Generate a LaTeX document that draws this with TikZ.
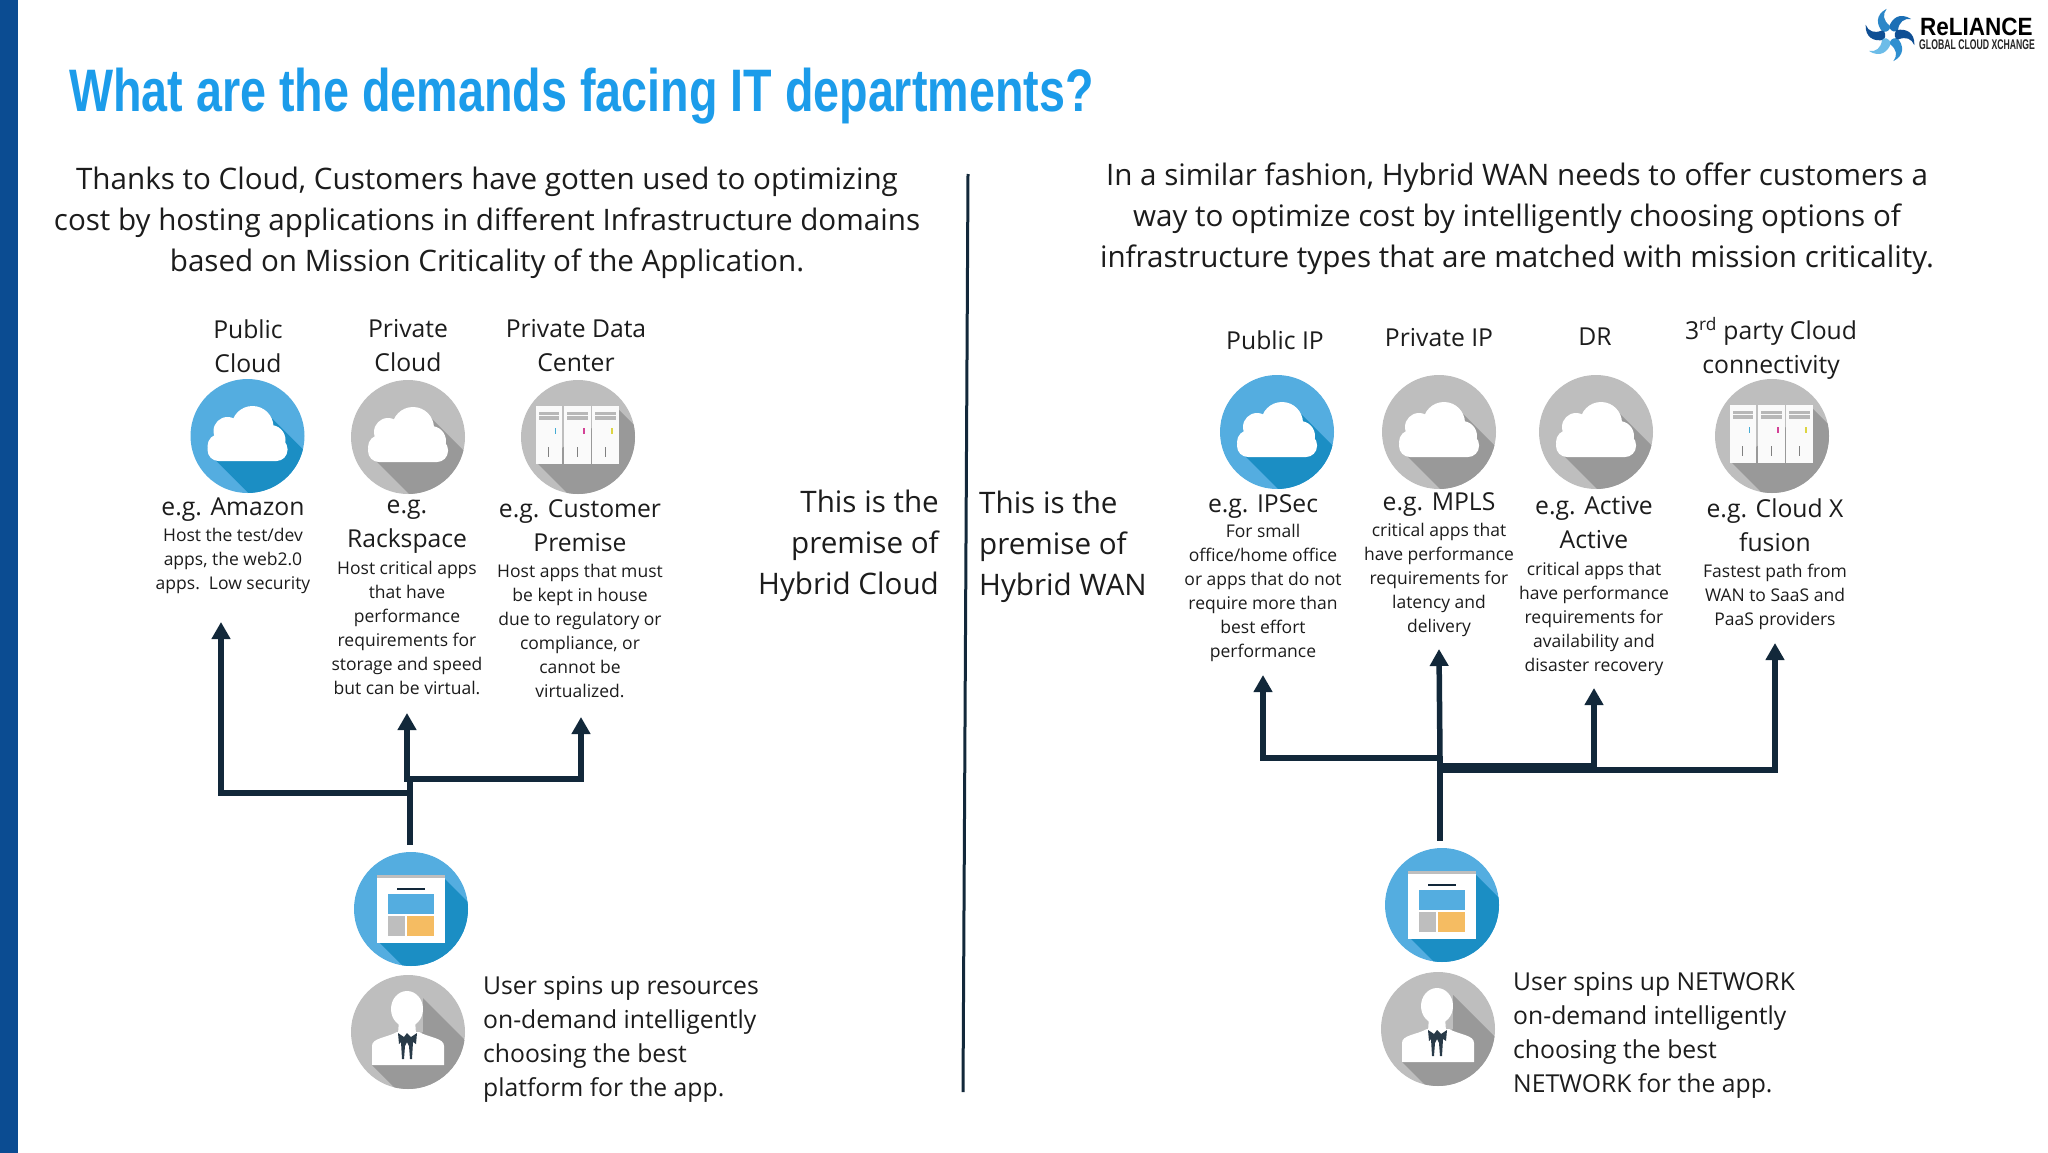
\documentclass[tikz,border=0pt]{standalone}
\usepackage{fontspec}
\setmainfont{Open Sans}
\newfontfamily\titlefont{Liberation Sans}
\usetikzlibrary{arrows.meta}
\definecolor{barblue}{HTML}{0B4C92}
\definecolor{titleblue}{HTML}{1C9CEA}
\definecolor{circblue}{HTML}{54ADE0}
\definecolor{shblue}{HTML}{1B8EC4}
\definecolor{circgray}{HTML}{BEBEBE}
\definecolor{shgray}{HTML}{999999}
\definecolor{wirec}{HTML}{12283A}
\definecolor{txt}{HTML}{1C1C1C}
\definecolor{softorange}{HTML}{F5BC62}
\definecolor{swa}{HTML}{1B6FB5}
\definecolor{swb}{HTML}{2C87C8}
\definecolor{swc}{HTML}{0F4F94}
\definecolor{swd}{HTML}{6CBCE8}
\definecolor{swe}{HTML}{2F8FD0}
\definecolor{swf}{HTML}{0F4F94}
\tikzset{
  big/.style={font=\fontsize{29.6}{40.8}\selectfont,align=center,text=txt,inner sep=0pt},
  med/.style={font=\fontsize{24.7}{34}\selectfont,align=center,text=txt,inner sep=0pt},
  small/.style={font=\fontsize{17.5}{24}\selectfont,align=center,text=txt,inner sep=0pt},
  disc/.style={circle,minimum size=114pt,inner sep=0pt,fill=#1},
  wire/.style={draw=wirec,line width=5.5pt,line join=miter},
  arrowwire/.style={wire,-{Triangle[width=18pt,length=17pt]}},
  pics/cloudic/.style={code={
    \begin{scope}
      \clip (0,0) circle[radius=57pt];
      \fill[#1] (-31,25) -- (19,75) -- (75,75) -- (75,33) -- (23,-19) -- cycle;
    \end{scope}
    \fill[white,rounded corners=11pt] (-40,2) rectangle (40,25);
    \fill[white] (5,-9) circle[radius=21pt];
    \fill[white] (-20,-5) circle[radius=14pt];
    \fill[white] (23,4) circle[radius=15pt];
    \fill[white] (-28,10) circle[radius=12pt];
  }},
  pics/serveric/.style={code={
    \begin{scope}
      \clip (0,0) circle[radius=57pt];
      \fill[shgray] (-40,27) -- (-7,60) -- (70,60) -- (70,2) -- (41,-27) -- cycle;
    \end{scope}
    \foreach \xa/\dot in {-42.5/cyan,-14/magenta,14/yellow}{
      \fill[white!96!gray] (\xa,-31) rectangle ++(26.5,58);
      \fill[shgray!70!white] (\xa+3,-25) rectangle ++(20.5,3);
      \fill[shgray!70!white] (\xa+3,-21) rectangle ++(20.5,3.5);
      \fill[\dot!70!gray] (\xa+19,-9) rectangle ++(1.5,6);
      \fill[gray] (\xa+12.5,10) rectangle ++(1.4,10);
    }
  }},
  pics/appic/.style={code={
    \begin{scope}
      \clip (0,0) circle[radius=57pt];
      \fill[shblue] (-31,34) -- (-4,61) -- (70,61) -- (70,6) -- (34,-30) -- cycle;
    \end{scope}
    \fill[white] (-34,-34) rectangle (34,34);
    \fill[circgray] (-34,-34) rectangle (34,-31);
    \fill[wirec] (-14,-21) rectangle (14,-19);
    \fill[circblue] (-23,-15) rectangle (23,5);
    \fill[circgray] (-23,7) rectangle (-6,27);
    \fill[softorange] (-4,7) rectangle (23,27);
  }},
  pics/useric/.style={code={
    \begin{scope}
      \clip (0,0) circle[radius=57pt];
      \fill[shgray] (-36,33) -- (-8,61) -- (70,61) -- (70,21) -- (15,-34) -- (15,0) -- cycle;
    \end{scope}
    \fill[white] (-36,33) -- (-36,14) .. controls (-36,6) and (-22,6) .. (-11,0) -- (11,0) .. controls (22,6) and (36,6) .. (36,14) -- (36,33) -- cycle;
    \fill[white] (-1,-23) ellipse[x radius=16pt,y radius=18pt];
    \fill[white] (-9,-12) -- (7,-12) -- (8,2) -- (-10,2) -- cycle;
    \fill[wirec!80!gray] (-10,1) -- (-4,5) -- (-1,1) -- (3,5) -- (9,1) -- (8,12) -- (5,10) -- (4,27) -- (2,27) -- (1,14) -- (-1,10) -- (-3,14) -- (-4,27) -- (-6,27) -- (-7,10) -- (-9,12) -- cycle;
  }}
}
\begin{document}
\begin{tikzpicture}[x=1pt,y=-1pt]
\useasboundingbox (0,0) rectangle (2048,1153);
\fill[white] (0,0) rectangle (2048,1153);
\fill[barblue] (0,0) rectangle (18,1153);

% logo
\foreach \ang/\col in {0/swa,60/swb,120/swc,180/swd,240/swe,300/swf}{
  \fill[\col,rotate around={\ang:(1890,35)}]
    (1889,27) .. controls (1892,18) and (1900,12) .. (1911,19)
    .. controls (1904,18) and (1899,22) .. (1898,30)
    .. controls (1896,33) and (1891,32) .. cycle;
}
\node[anchor=west,inner sep=0pt,font=\titlefont\bfseries\fontsize{25}{25}\selectfont,text=black] (logoa) at (1920,27) {\scalebox{0.9}[1]{ReLIANCE}};
\node[anchor=west,inner sep=0pt,font=\titlefont\bfseries\fontsize{14}{14}\selectfont,text=black!85] (logob) at (1919,45) {\scalebox{0.62}[1]{GLOBAL CLOUD XCHANGE}};

% title
\node[anchor=west,inner sep=0pt,font=\titlefont\bfseries\fontsize{60}{60}\selectfont,text=titleblue] (title) at (69,96) {\scalebox{0.778}[1]{What are the demands facing IT departments?}};

% divider
\coordinate (divt) at (968,174);
\coordinate (divb) at (963,1092);
\draw[wirec,line width=3pt] (divt) -- (divb);

% intro
\node[big] (introL) at (487,223) {Thanks to Cloud, Customers have gotten used to optimizing\\cost by hosting applications in different Infrastructure domains\\based on Mission Criticality of the Application.};
\node[big] (introR) at (1517,219) {In a similar fashion, Hybrid WAN needs to offer customers a\\way to optimize cost by intelligently choosing options of\\infrastructure types that are matched with mission criticality.};

\node[big,align=right,anchor=east] (premL) at (939,546) {This is the\\premise of\\Hybrid Cloud};
\node[big,align=left,anchor=west] (premR) at (979,547) {This is the\\premise of\\Hybrid WAN};

% left headings
\node[med] (h1) at (248,346) {Public\\Cloud};
\node[med] (h2) at (408,346) {Private\\Cloud};
\node[med] (h3) at (576,346) {Private Data\\Center};

\node[disc=circblue] (c1) at (247.5,436) {};
\node[disc=circgray] (c2) at (408,437) {};
\node[disc=circgray] (c3) at (578,437) {};
\pic at (c1.center) {cloudic=shblue};
\pic at (c2.center) {cloudic=shgray};
\pic at (c3.center) {serveric};

\node[med] (e1) at (233,510) {e.g. Amazon};
\node[small] (s1) at (233,561) {Host the test/dev\\apps, the web2.0\\apps.\ \ Low security};
\node[med] (e2) at (407,527) {e.g.\\Rackspace};
\node[small] (s2) at (407,628) {Host critical apps\\that have\\performance\\requirements for\\storage and speed\\but can be virtual.};
\node[med] (e3) at (580,526) {e.g. Customer\\Premise};
\node[small] (s3) at (580,631) {Host apps that must\\be kept in house\\due to regulatory or\\compliance, or\\cannot be\\virtualized.};

% left app + user
\node[disc=circblue] (appL) at (411,909) {};
\node[disc=circgray] (userL) at (408,1032) {};
\pic at (appL.center) {appic};
\pic at (userL.center) {useric};
\node[med,align=left,anchor=west] (uL) at (483,1039) {User spins up resources\\on-demand intelligently\\choosing the best\\platform for the app.};

% left connectors
\coordinate (jL1) at (410,793);
\coordinate (jL2) at (410,779);
\coordinate (cL1) at (221,793);
\coordinate (tL1) at (221,622);
\coordinate (cL2) at (407,779);
\coordinate (tL2) at (407,713);
\coordinate (cL3) at (581,779);
\coordinate (tL3) at (581,717);
\draw[wire,shorten <=7pt] (appL.north -| jL1) -- (jL2);
\draw[arrowwire] (jL1) -- (cL1) -- (tL1);
\draw[arrowwire] (jL2) -- (cL2) -- (tL2);
\draw[arrowwire] (jL2) -- (cL3) -- (tL3);

% right headings
\node[med] (h4) at (1275,340) {Public IP};
\node[med] (h5) at (1439,338) {Private IP};
\node[med] (h6) at (1595,337) {DR};
\node[med] (h7) at (1771,348) {3\textsuperscript{rd} party Cloud\\connectivity};

\node[disc=circblue] (c4) at (1277,432) {};
\node[disc=circgray] (c5) at (1439,432) {};
\node[disc=circgray] (c6) at (1596,432) {};
\node[disc=circgray] (c7) at (1772,436) {};
\pic at (c4.center) {cloudic=shblue};
\pic at (c5.center) {cloudic=shgray};
\pic at (c6.center) {cloudic=shgray};
\pic at (c7.center) {serveric};

\node[med] (e4) at (1263,507) {e.g. IPSec};
\node[small] (s4) at (1263,593) {For small\\office/home office\\or apps that do not\\require more than\\best effort\\performance};
\node[med] (e5) at (1439,505) {e.g. MPLS};
\node[small] (s5) at (1439,580) {critical apps that\\have performance\\requirements for\\latency and\\delivery};
\node[med] (e6) at (1594,523) {e.g. Active\\Active};
\node[small] (s6) at (1594,619) {critical apps that\\have performance\\requirements for\\availability and\\disaster recovery};
\node[med] (e7) at (1775,525) {e.g. Cloud X\\fusion};
\node[small] (s7) at (1775,597) {Fastest path from\\WAN to SaaS and\\PaaS providers};

% right app + user
\node[disc=circblue] (appR) at (1442,905) {};
\node[disc=circgray] (userR) at (1438,1029) {};
\pic at (appR.center) {appic};
\pic at (userR.center) {useric};
\node[med,align=left,anchor=west] (uR) at (1513,1035) {User spins up NETWORK\\on-demand intelligently\\choosing the best\\NETWORK for the app.};

% right connectors
\coordinate (jR1) at (1440,758);
\coordinate (jR2) at (1440,767);
\coordinate (cR1) at (1263,758);
\coordinate (tR1) at (1263,675);
\coordinate (tR2) at (1439,649);
\coordinate (cR3) at (1594,767);
\coordinate (tR3) at (1594,688);
\coordinate (cR4) at (1775,770);
\coordinate (tR4) at (1775,643);
\coordinate (jR3) at (1440,770);
\draw[wire,shorten <=7pt] (appR.north -| jR1) -- (jR1);
\draw[arrowwire] (jR1) -- (cR1) -- (tR1);
\draw[arrowwire] (jR1) -- (tR2);
\draw[wire,line width=8pt] (jR2) -- (cR3);
\draw[arrowwire] (cR3) -- (tR3);
\draw[arrowwire] (jR3) -- (cR4) -- (tR4);
\end{tikzpicture}
\end{document}
